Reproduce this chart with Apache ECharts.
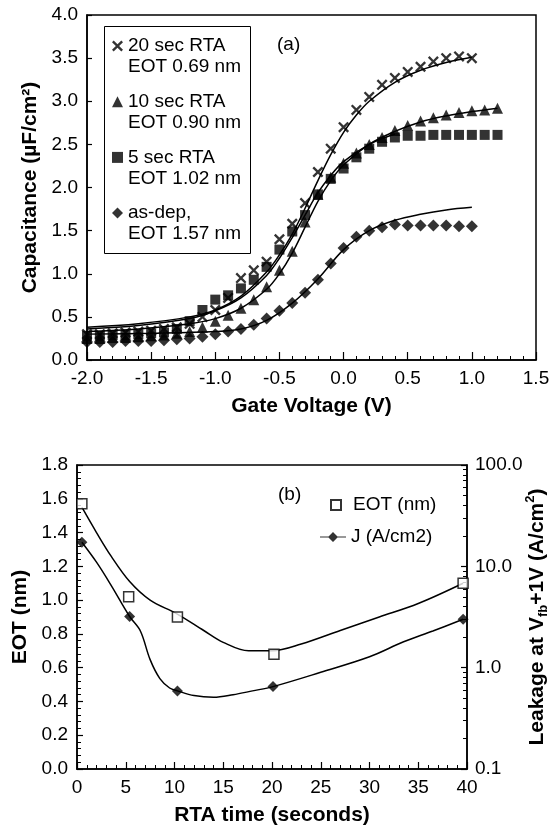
<!DOCTYPE html>
<html>
<head>
<meta charset="utf-8">
<script src="https://cdn.jsdelivr.net/npm/echarts@6/dist/echarts.min.js"></script>
<style>
  html, body { margin: 0; padding: 0; background: #fff; }
  #chart { width: 554px; height: 829px; }
</style>
</head>
<body>
<div id="chart"></div>
<script>
const FONT = '"Liberation Sans", Arial, sans-serif'

// ---- (a) C-V data ----
const voltsShort = [-2.0, -1.9, -1.8, -1.7, -1.6, -1.5, -1.4, -1.3, -1.2, -1.1, -1.0, -0.9, -0.8, -0.7, -0.6, -0.5,
  -0.4, -0.3, -0.2, -0.1, 0.0, 0.1, 0.2, 0.3, 0.4, 0.5, 0.6, 0.7, 0.8, 0.9, 1.0]
const voltsLong = [-2.0, -1.9, -1.8, -1.7, -1.6, -1.5, -1.4, -1.3, -1.2, -1.1, -1.0, -0.9, -0.8, -0.7, -0.6, -0.5,
  -0.4, -0.3, -0.2, -0.1, 0.0, 0.1, 0.2, 0.3, 0.4, 0.5, 0.6, 0.7, 0.8, 0.9, 1.0, 1.1, 1.2]

const cap20s = [0.30, 0.30, 0.31, 0.32, 0.33, 0.34, 0.36, 0.38, 0.42, 0.50, 0.58, 0.72, 0.95, 1.04, 1.14, 1.40,
  1.58, 1.82, 2.18, 2.45, 2.70, 2.90, 3.05, 3.19, 3.27, 3.34, 3.40, 3.46, 3.50, 3.52, 3.50]
const cap10s = [0.25, 0.25, 0.26, 0.26, 0.27, 0.28, 0.29, 0.31, 0.33, 0.38, 0.45, 0.52, 0.60, 0.70, 0.85, 1.04,
  1.26, 1.60, 1.92, 2.12, 2.28, 2.40, 2.50, 2.58, 2.66, 2.72, 2.77, 2.81, 2.84, 2.87, 2.89, 2.90, 2.92]
const cap5s = [0.28, 0.28, 0.29, 0.29, 0.30, 0.31, 0.32, 0.36, 0.45, 0.58, 0.70, 0.75, 0.83, 0.93, 1.08, 1.28,
  1.49, 1.68, 1.92, 2.10, 2.22, 2.35, 2.45, 2.53, 2.58, 2.60, 2.60, 2.61, 2.61, 2.61, 2.61, 2.61, 2.61]
const capAsDep = [0.21, 0.21, 0.21, 0.22, 0.22, 0.22, 0.23, 0.24, 0.25, 0.27, 0.30, 0.33, 0.36, 0.41, 0.48, 0.57,
  0.66, 0.78, 0.93, 1.12, 1.30, 1.43, 1.50, 1.54, 1.57, 1.56, 1.56, 1.56, 1.56, 1.55, 1.55]

// fitted curves (a)
const fit20V = [-2.0, -1.6, -1.2, -1.0, -0.8, -0.6, -0.5, -0.4, -0.3, -0.2, -0.1, 0.0, 0.1, 0.2, 0.4, 0.6, 0.8, 1.0]
const fit20C = [0.38, 0.42, 0.50, 0.58, 0.74, 1.02, 1.22, 1.46, 1.76, 2.08, 2.38, 2.64, 2.84, 3.00, 3.22, 3.36, 3.45, 3.51]
const fit10V = [-2.0, -1.6, -1.2, -1.0, -0.8, -0.6, -0.5, -0.4, -0.3, -0.2, -0.1, 0.0, 0.2, 0.4, 0.6, 0.8, 1.0, 1.2]
const fit10C = [0.33, 0.36, 0.42, 0.48, 0.60, 0.82, 1.00, 1.24, 1.54, 1.84, 2.08, 2.26, 2.50, 2.65, 2.76, 2.83, 2.88, 2.92]
const fit5V = [-2.0, -1.6, -1.2, -1.0, -0.8, -0.6, -0.5, -0.4, -0.3, -0.2, -0.1, 0.0, 0.2, 0.4]
const fit5C = [0.36, 0.40, 0.48, 0.57, 0.72, 0.98, 1.18, 1.42, 1.68, 1.94, 2.14, 2.30, 2.50, 2.62]
const fitDepV = [-2.0, -1.5, -1.0, -0.8, -0.6, -0.4, -0.2, 0.0, 0.2, 0.4, 0.6, 0.8, 1.0]
const fitDepC = [0.30, 0.31, 0.33, 0.36, 0.46, 0.66, 0.94, 1.28, 1.50, 1.62, 1.69, 1.74, 1.77]

const legendNamesA = ['20 sec RTA', '10 sec RTA', '5 sec RTA', 'as-dep,']
const legendEotA = ['EOT 0.69 nm', 'EOT 0.90 nm', 'EOT 1.02 nm', 'EOT 1.57 nm']

// ---- (b) EOT / leakage vs RTA time ----
const eotTime = [0.5, 5.3, 10.3, 20.2, 39.6]
const eotNm = [1.57, 1.02, 0.90, 0.68, 1.10]
const jTime = [0.5, 5.4, 10.3, 20.1, 39.6]
const jLeak = [17.3, 3.2, 0.59, 0.65, 3.0]

const eotFitT = [0.5, 2, 3.5, 5.4, 7.5, 10.2, 13, 15, 17.6, 20, 23, 27, 31, 35, 39.6]
const eotFitV = [1.55, 1.40, 1.26, 1.11, 1.00, 0.92, 0.82, 0.75, 0.70, 0.70, 0.74, 0.82, 0.90, 0.98, 1.10]
const jFitT = [0.5, 2, 3.5, 5.4, 6.5, 7.5, 8.5, 9.5, 10.3, 12, 14, 16, 18, 20.1, 25, 30, 33.5, 36.5, 39.6]
const jFitV = [17.3, 11, 6.5, 3.2, 2.3, 1.2, 0.78, 0.63, 0.59, 0.53, 0.51, 0.54, 0.59, 0.65, 0.9, 1.28, 1.8, 2.3, 3.0]

const zip = (xs, ys) => xs.map((x, i) => [x, ys[i]])

const crossPath = 'path://M0,1.5L1.5,0L5,3.5L8.5,0L10,1.5L6.5,5L10,8.5L8.5,10L5,6.5L1.5,10L0,8.5L3.5,5Z'
const lineDiamondPath = 'path://M0,4.4H26V5.6H0Z M13,0L18,5L13,10L8,5Z'

const black = '#000'
const axisLine = { onZero: false, lineStyle: { color: black, width: 1.5 } }
const tick = (len) => ({ inside: true, length: len, lineStyle: { color: black, width: 1.2 } })
const minor = (n) => ({ show: true, splitNumber: n, length: 4, lineStyle: { color: black, width: 1 } })
const label = (fmt, margin) => ({ color: black, fontSize: 19, fontFamily: FONT, margin: margin, formatter: fmt })
const nameStyle = { color: black, fontSize: 21, fontWeight: 'bold', fontFamily: FONT }
const oneDec = (v) => v.toFixed(1)

const chart = echarts.init(document.getElementById('chart'))

function fitLine(name, xs, ys, xi, yi) {
  return {
    name, type: 'line', xAxisIndex: xi, yAxisIndex: yi, data: zip(xs, ys),
    smooth: 0.35, showSymbol: false, symbol: 'none', z: 2,
    lineStyle: { color: black, width: 1.5 }, silent: true
  }
}

function points(name, xs, ys, symbol, size, xi, yi, style) {
  return {
    name, type: 'scatter', xAxisIndex: xi, yAxisIndex: yi, data: zip(xs, ys),
    symbol, symbolSize: size, z: 3,
    itemStyle: style || { color: black }
  }
}

const option = {
  animation: false,
  backgroundColor: '#fff',
  textStyle: { fontFamily: FONT },
  grid: [
    { left: 87, top: 15, width: 449, height: 345, show: true, borderColor: black, borderWidth: 1.5, outerBoundsMode: 'none' },
    { left: 77, top: 465, width: 390, height: 304, show: true, borderColor: black, borderWidth: 1.5, outerBoundsMode: 'none' }
  ],
  xAxis: [
    {
      type: 'value', gridIndex: 0, min: -2, max: 1.5, interval: 0.5,
      axisLine, axisTick: tick(8), minorTick: minor(5), splitLine: { show: false },
      axisLabel: label(oneDec, 9),
      name: 'Gate Voltage (V)', nameLocation: 'middle', nameGap: 36, nameTextStyle: nameStyle
    },
    {
      type: 'value', gridIndex: 1, min: 0, max: 40, interval: 5,
      axisLine, axisTick: tick(7), minorTick: minor(5), splitLine: { show: false },
      axisLabel: label((v) => String(v), 9),
      name: 'RTA time (seconds)', nameLocation: 'middle', nameGap: 36, nameTextStyle: nameStyle
    }
  ],
  yAxis: [
    {
      type: 'value', gridIndex: 0, min: 0, max: 4, interval: 0.5,
      axisLine, axisTick: tick(5), splitLine: { show: false },
      axisLabel: label(oneDec, 9),
      name: 'Capacitance (µF/cm²)', nameLocation: 'middle', nameRotate: 90, nameGap: 44, nameTextStyle: nameStyle
    },
    {
      type: 'value', gridIndex: 1, min: 0, max: 1.8, interval: 0.2,
      axisLine, axisTick: tick(6), minorTick: minor(5), splitLine: { show: false },
      axisLabel: label(oneDec, 9),
      name: 'EOT (nm)', nameLocation: 'middle', nameRotate: 90, nameGap: 45, nameTextStyle: nameStyle
    },
    {
      type: 'log', logBase: 10, gridIndex: 1, position: 'right', min: 0.1, max: 100,
      axisLine, axisTick: tick(6), minorTick: minor(9), splitLine: { show: false },
      axisLabel: label((v) => (v < 1 ? String(v) : v.toFixed(1)), 8),
      name: '{b|Leakage at V}{sub|fb}{b|+1V (A/cm}{sup|2}{b|)}',
      nameLocation: 'middle', nameRotate: 90, nameGap: 57, nameMoveOverlap: false,
      nameTextStyle: {
        color: black, fontFamily: FONT,
        rich: {
          b: { fontSize: 21, fontWeight: 'bold', fontFamily: FONT, color: black, lineHeight: 26 },
          sub: { fontSize: 13, fontWeight: 'bold', fontFamily: FONT, color: black, verticalAlign: 'bottom', lineHeight: 14 },
          sup: { fontSize: 13, fontWeight: 'bold', fontFamily: FONT, color: black, verticalAlign: 'top', lineHeight: 14 }
        }
      }
    }
  ],
  legend: [
    {
      data: [
        { name: legendNamesA[0], icon: crossPath },
        { name: legendNamesA[1], icon: 'triangle' },
        { name: legendNamesA[2], icon: 'rect' },
        { name: legendNamesA[3], icon: 'diamond' }
      ],
      orient: 'vertical', left: 112, top: 14.5, padding: 0,
      itemWidth: 11, itemHeight: 11, itemGap: -7.3, selectedMode: false,
      formatter: (name) => ' \n' + name + '\n' + legendEotA[legendNamesA.indexOf(name)],
      textStyle: { color: black, fontSize: 19, lineHeight: 21, fontFamily: FONT }
    },
    {
      data: [{ name: 'EOT (nm)', icon: 'rect' }],
      left: 330, top: 495, padding: 0, itemWidth: 10, itemHeight: 10, selectedMode: false,
      textStyle: { color: black, fontSize: 19, lineHeight: 20, fontFamily: FONT, padding: [0, 0, 0, 7] }
    },
    {
      data: [{ name: 'J (A/cm2)', icon: lineDiamondPath }],
      left: 320, top: 527, padding: 0, itemWidth: 26, itemHeight: 10, selectedMode: false,
      textStyle: { color: black, fontSize: 19, lineHeight: 20, fontFamily: FONT }
    }
  ],
  graphic: [
    { type: 'rect', left: 102, top: 24, shape: { width: 146, height: 227 }, style: { fill: 'none', stroke: black, lineWidth: 1 } },
    { type: 'text', x: 277, y: 45, style: { text: '(a)', fill: black, font: '19px ' + FONT, verticalAlign: 'middle' } },
    { type: 'text', x: 278, y: 495, style: { text: '(b)', fill: black, font: '19px ' + FONT, verticalAlign: 'middle' } }
  ],
  series: [
    fitLine('fit 20 sec', fit20V, fit20C, 0, 0),
    fitLine('fit 10 sec', fit10V, fit10C, 0, 0),
    fitLine('fit 5 sec', fit5V, fit5C, 0, 0),
    fitLine('fit as-dep', fitDepV, fitDepC, 0, 0),
    points(legendNamesA[0], voltsShort, cap20s, crossPath, 11, 0, 0),
    points(legendNamesA[1], voltsLong, cap10s, 'triangle', 11, 0, 0),
    points(legendNamesA[2], voltsLong, cap5s, 'rect', 10, 0, 0),
    points(legendNamesA[3], voltsShort, capAsDep, 'diamond', 12, 0, 0),

    fitLine('EOT fit', eotFitT, eotFitV, 1, 1),
    fitLine('J fit', jFitT, jFitV, 1, 2),
    points('EOT (nm)', eotTime, eotNm, 'rect', 10, 1, 1, { color: '#fff', borderColor: black, borderWidth: 1.5 }),
    points('J (A/cm2)', jTime, jLeak, 'diamond', 11, 1, 2)
  ]
}

chart.setOption(option)
</script>
</body>
</html>
